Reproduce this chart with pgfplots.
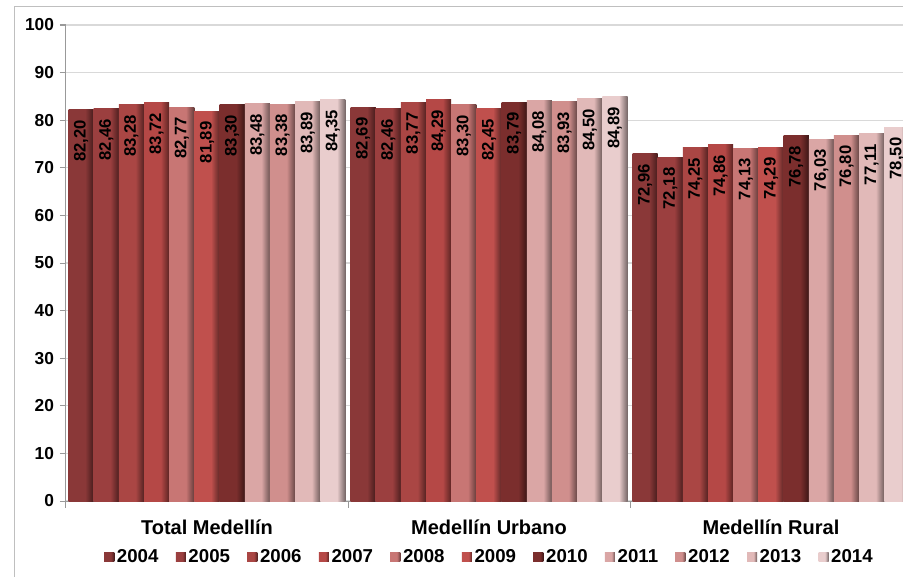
\documentclass[border=0pt]{standalone}
\usepackage{fontspec}
\setmainfont{Liberation Sans}
\usepackage{graphicx}
\usepackage{pgfplots}
\usepackage{pgfplotstable}
\pgfplotsset{compat=1.18}

\definecolor{c04}{HTML}{8A3838}
\definecolor{c05}{HTML}{9B3F3F}
\definecolor{c06}{HTML}{AA4644}
\definecolor{c07}{HTML}{B54846}
\definecolor{c08}{HTML}{C87674}
\definecolor{c09}{HTML}{C0504D}
\definecolor{c10}{HTML}{7B2E2D}
\definecolor{c11}{HTML}{DAA6A5}
\definecolor{c12}{HTML}{D08F8D}
\definecolor{c13}{HTML}{E1B9B8}
\definecolor{c14}{HTML}{E9CDCD}
\colorlet{barcol}{c04}
\pgfdeclarehorizontalshading[barcol]{barshade}{100bp}{color(0bp)=(barcol); color(25bp)=(barcol); color(58bp)=(barcol); color(75bp)=(barcol!50!black); color(100bp)=(barcol!50!black)}

\pgfplotstableread{
x y04 y05 y06 y07 y08 y09 y10 y11 y12 y13 y14
0 82.20 82.46 83.28 83.72 82.77 81.89 83.30 83.48 83.38 83.89 84.35
1 82.69 82.46 83.77 84.29 83.30 82.45 83.79 84.08 83.93 84.50 84.89
2 72.96 72.18 74.25 74.86 74.13 74.29 76.78 76.03 76.80 77.11 78.50
}\data

\pgfplotsset{
  barsty/.style={ybar, draw=none, bar width=0.0893, bar shift=#1*0.0893},
  col/.style={/utils/exec={\colorlet{barcol}{#1}}, shade, shading=barshade, fill=#1},
}
\newcommand\bars[3]{%
  \addplot[barsty=#1, col=#2] table[x=x, y=#3, restrict x to domain=-0.2:0.2]{\data};
  \addplot[barsty=#1, col=#2, forget plot] table[x=x, y=#3, restrict x to domain=0.8:1.2]{\data};
  \addplot[barsty=#1, col=#2, forget plot] table[x=x, y=#3, restrict x to domain=1.8:2.2]{\data};
}

\begin{document}
\begin{tikzpicture}
\useasboundingbox (0,0) rectangle (677.25pt,432pt);
\clip (0,0) rectangle (677.25pt,432pt);
\draw[black!25, line width=0.75pt] (10.5pt,426.75pt) rectangle (720pt,-20pt);
\begin{axis}[
  at={(49.5pt,56.25pt)}, anchor=south west,
  scale only axis, width=634.5pt, height=357pt,
  xmin=-0.5, xmax=2.5, ymin=0, ymax=100,
  axis x line*=bottom, axis y line*=left,
  axis line style={draw=black!40, line width=0.75pt, -},
  ytick={0,10,...,100},
  ymajorgrids, major grid style={black!15, line width=1pt},
  tick align=outside,
  y tick style={draw=black!40, line width=0.75pt},
  major tick length=4.5pt,
  xtick={0,1,2},
  xticklabels={Total Medellín, Medellín Urbano, Medellín Rural},
  x tick style={draw=none},
  minor xtick={-0.5,0.5,1.5,2.5},
  minor x tick style={draw=black!40, line width=0.75pt},
  minor tick length=5pt,
  /pgf/number format/assume math mode=true,
  yticklabel style={font=\bfseries\fontsize{13}{13}\selectfont, xshift=-1pt},
  xticklabel style={font=\bfseries\fontsize{15}{15}\selectfont, yshift=-6pt},
  ybar,
  nodes near coords={\pgfmathprintnumber[fixed,fixed zerofill,precision=2,use comma,assume math mode=true]{\pgfplotspointmeta}},
  every node near coord/.append style={rotate=90, anchor=east, font=\bfseries\fontsize{12.5}{12.5}\selectfont, inner xsep=7.5pt, inner ysep=0pt, text=black},
  legend columns=11,
  legend style={at={(0.501,-0.118)}, anchor=center, draw=none, fill=none,
    font=\bfseries\fontsize{14}{14}\selectfont,
    nodes={inner xsep=2pt, inner ysep=0pt},
    /tikz/every even column/.append style={column sep=11pt}},
  legend image code/.code={\path[#1] (0pt,-3.6pt) rectangle (7.5pt,3.6pt);},
]
\bars{-5}{c04}{y04}
\bars{-4}{c05}{y05}
\bars{-3}{c06}{y06}
\bars{-2}{c07}{y07}
\bars{-1}{c08}{y08}
\bars{0}{c09}{y09}
\bars{1}{c10}{y10}
\bars{2}{c11}{y11}
\bars{3}{c12}{y12}
\bars{4}{c13}{y13}
\bars{5}{c14}{y14}
\legend{2004,2005,2006,2007,2008,2009,2010,2011,2012,2013,2014}
\end{axis}
\end{tikzpicture}
\end{document}
